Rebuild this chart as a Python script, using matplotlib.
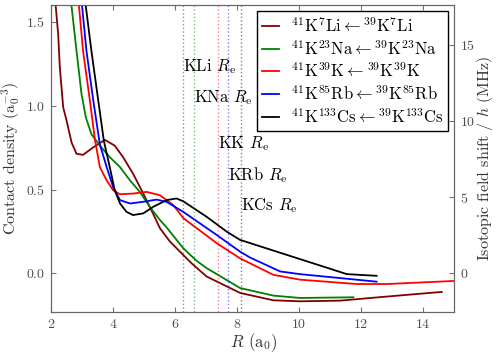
import matplotlib
matplotlib.use("Agg")
import matplotlib.pyplot as plt

plt.rcParams['font.family'] = 'serif'
plt.rcParams['font.serif'] = ['cmr10']
plt.rcParams['mathtext.fontset'] = 'cm'
plt.rcParams['axes.formatter.use_mathtext'] = True
plt.rcParams['xtick.direction'] = 'in'
plt.rcParams['ytick.direction'] = 'in'
plt.rcParams['xtick.top'] = True

# contact density curves (R in a0, density in a0^-3)
r_li = [2.10, 2.16, 2.24, 2.29, 2.40, 2.51, 2.67, 2.83, 3.04, 3.37, 3.74, 4.06, 4.33, 4.65, 4.98,
        5.19, 5.52, 5.84, 6.27, 6.54, 7.02, 8.10, 9.17, 10.03, 11.32, 12.94, 14.60]
d_li = [1.80, 1.59, 1.42, 1.23, 0.99, 0.91, 0.78, 0.713, 0.707, 0.752, 0.796, 0.762, 0.693, 0.595, 0.476,
        0.397, 0.269, 0.19, 0.11, 0.06, -0.018, -0.116, -0.16, -0.166, -0.162, -0.136, -0.11]

r_na = [2.60, 2.67, 2.83, 2.99, 3.13, 3.31, 3.58, 3.90, 4.23, 4.55, 4.87, 5.19, 5.52, 5.73, 6.27,
        6.70, 7.02, 8.10, 9.17, 10.03, 11.75]
d_na = [1.75, 1.59, 1.325, 1.069, 0.93, 0.83, 0.762, 0.693, 0.634, 0.555, 0.486, 0.397, 0.318, 0.275, 0.15,
        0.075, 0.032, -0.087, -0.132, -0.146, -0.142]

r_k = [2.85, 2.91, 3.04, 3.26, 3.42, 3.58, 3.80, 4.01, 4.23, 4.65, 5.09, 5.52, 5.95, 6.27, 6.59,
       7.02, 7.35, 8.10, 9.17, 10.03, 11.86, 12.83, 15.20]
d_k = [1.75, 1.59, 1.325, 1.03, 0.80, 0.634, 0.555, 0.496, 0.472, 0.476, 0.486, 0.466, 0.407, 0.33, 0.285,
       0.226, 0.18, 0.09, -0.008, -0.037, -0.063, -0.063, -0.043]

r_rb = [2.95, 3.01, 3.15, 3.37, 3.58, 3.80, 4.01, 4.23, 4.55, 4.98, 5.41, 5.73, 6.27, 7.35, 8.10,
        8.42, 9.39, 10.03, 12.50]
d_rb = [1.75, 1.59, 1.325, 1.03, 0.77, 0.634, 0.515, 0.437, 0.417, 0.427, 0.44, 0.427, 0.367, 0.229, 0.13,
        0.095, 0.012, -0.004, -0.049]

r_cs = [3.05, 3.13, 3.31, 3.53, 3.71, 3.90, 4.06, 4.23, 4.44, 4.65, 4.98, 5.30, 5.73, 6.05, 6.27,
        7.02, 7.35, 7.67, 8.10, 11.54, 12.50]
d_cs = [1.75, 1.59, 1.325, 1.03, 0.79, 0.634, 0.496, 0.417, 0.367, 0.348, 0.358, 0.397, 0.437, 0.447, 0.43,
        0.338, 0.293, 0.249, 0.20, -0.004, -0.014]

# equilibrium distances
re_names = ['KLi', 'KNa', 'KK', 'KRb', 'KCs']
re_vals = [6.27, 6.62, 7.38, 7.71, 8.12]
re_text_y = [1.23, 1.047, 0.774, 0.585, 0.407]

labels = [r'$^{41}\mathrm{K}^{7}\mathrm{Li} \leftarrow {}^{39}\mathrm{K}^{7}\mathrm{Li}$',
          r'$^{41}\mathrm{K}^{23}\mathrm{Na} \leftarrow {}^{39}\mathrm{K}^{23}\mathrm{Na}$',
          r'$^{41}\mathrm{K}^{39}\mathrm{K} \leftarrow {}^{39}\mathrm{K}^{39}\mathrm{K}$',
          r'$^{41}\mathrm{K}^{85}\mathrm{Rb} \leftarrow {}^{39}\mathrm{K}^{85}\mathrm{Rb}$',
          r'$^{41}\mathrm{K}^{133}\mathrm{Cs} \leftarrow {}^{39}\mathrm{K}^{133}\mathrm{Cs}$']
colors = ['#800000', '#008000', '#ff0000', '#0000ff', 'k']

# field shift in MHz per unit contact density
scale = 11.0

fig = plt.figure(figsize=(4.98, 3.55), dpi=100)
ax = fig.add_axes([0.102, 0.121, 0.81, 0.865])

curves = [(r_li, d_li), (r_na, d_na), (r_k, d_k), (r_rb, d_rb), (r_cs, d_cs)]
for (r, d), c, lab in zip(curves, colors, labels):
    ax.plot(r, d, color=c, lw=1.3, label=lab)

for name, x, ty, c in zip(re_names, re_vals, re_text_y, colors):
    ax.axvline(x, color=c, ls=':', lw=1, alpha=0.5)
    ax.text(x, ty, name + r' $R_\mathrm{e}$', fontsize=12, va='center', ha='left')

ax.set_xlim(2, 15)
ax.set_ylim(-0.23, 1.6)
ax.set_xticks([2, 4, 6, 8, 10, 12, 14])
ax.set_yticks([0.0, 0.5, 1.0, 1.5])
ax.set_xlabel(r'$R$ (a$_0$)', fontsize=12, color='0.2')
ax.set_ylabel(r'Contact density (a$_0^{-3}$)', fontsize=11.5, color='0.2')
ax.xaxis.set_label_coords(0.504, -0.064)
ax.yaxis.set_label_coords(-0.072, 0.5)
ax.tick_params(labelsize=10, colors='0.45', labelcolor='0.3', pad=4)
for sp in ax.spines.values():
    sp.set_color('0.4')

ax.legend(loc='upper right', fontsize=12, fancybox=False, edgecolor='k',
          handlelength=1.0, handletextpad=0.7, labelspacing=0.22,
          borderaxespad=0.35, borderpad=0.3, framealpha=1)

ax2 = ax.twinx()
lo, hi = ax.get_ylim()
ax2.set_ylim(lo * scale, hi * scale)
ax2.set_yticks([0, 5, 10, 15])
ax2.tick_params(labelsize=10, direction='in', colors='0.45', labelcolor='0.3', pad=4)
ax2.set_ylabel(r'Isotopic field shift / $h$ (MHz)', fontsize=11.5, color='0.2')
ax2.yaxis.set_label_coords(1.052, 0.5)
for sp in ax2.spines.values():
    sp.set_color('0.4')

fig.savefig('out.png', dpi=100)
